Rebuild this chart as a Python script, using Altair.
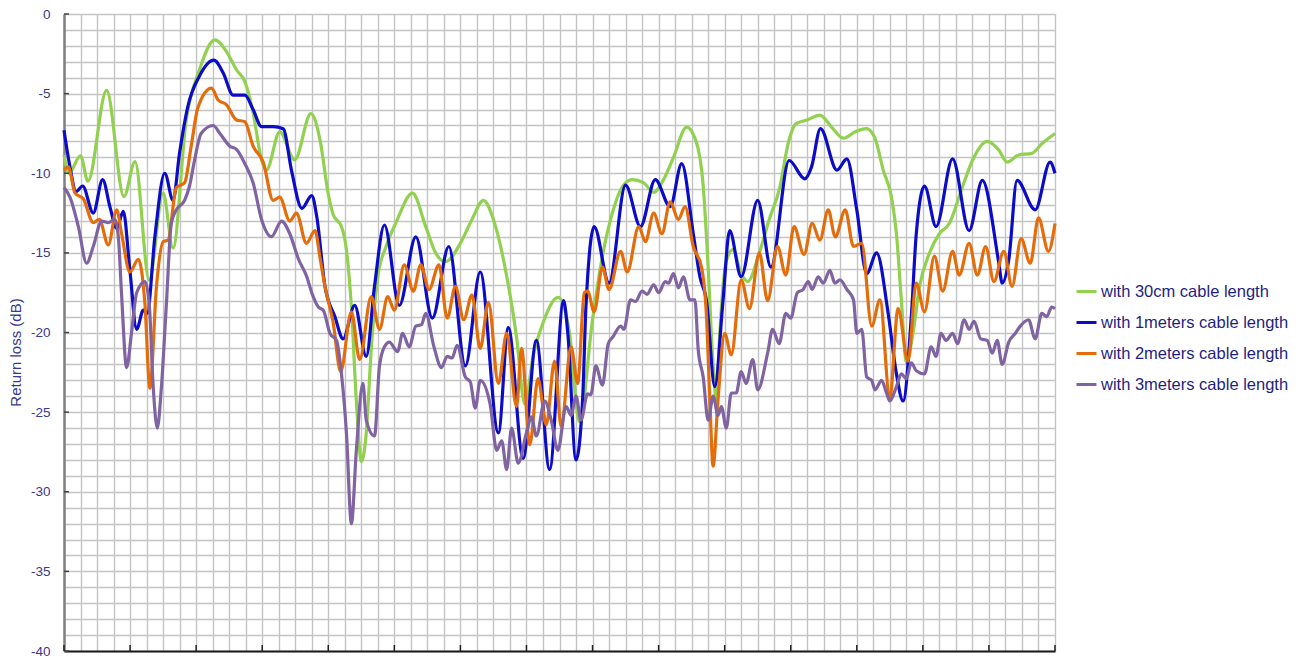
import altair as alt
import pandas as pd

series_names = [
    "with 30cm cable length",
    "with 1meters cable length",
    "with 2meters cable length",
    "with 3meters cable length",
]
series_colors = ["#92d050", "#0b0bc8", "#e46c0a", "#8064a2"]

# (frequency step, return loss dB)
trace_30cm = [(0,-8.85),(0.3,-10.0),(1.0,-8.9),(1.45,-10.5),(2.58,-4.8),(3.63,-11.46),(4.3,-9.27),(5.16,-16.7),(6.0,-11.25),(6.6,-14.7),(7.4,-6.65),(8.2,-3.5),(9.13,-1.63),(9.84,-2.36),(10.44,-3.5),(10.95,-4.25),(11.45,-6.2),(11.96,-9.16),(12.26,-9.8),(13.06,-7.4),(13.97,-9.16),(14.95,-6.25),(15.5,-7.9),(16.0,-11.3),(16.3,-12.6),(16.8,-13.35),(17.1,-14.8),(17.4,-18.4),(17.7,-24.3),(18.0,-28.1),(18.3,-26.3),(18.6,-21.1),(19.0,-16.5),(19.5,-14.6),(20.1,-13.1),(21.1,-11.25),(21.9,-13.35),(22.5,-15.0),(23.1,-15.55),(24.1,-14.2),(24.7,-12.9),(25.4,-11.7),(26.0,-12.9),(26.7,-15.9),(27.4,-20.3),(27.9,-24.5),(28.4,-21.5),(29.0,-19.4),(29.92,-17.8),(30.6,-20.0),(31.2,-25.6),(32.0,-19.2),(32.6,-15.2),(33.2,-12.5),(33.8,-10.85),(34.4,-10.4),(35.1,-10.6),(35.7,-11.2),(36.3,-10.4),(36.9,-9.0),(37.7,-7.1),(38.3,-8.1),(38.7,-10.8),(39.0,-15.9),(39.3,-22.1),(39.5,-24.2),(39.7,-20.1),(40.1,-15.5),(40.5,-14.8),(41.0,-16.3),(41.4,-16.8),(42.1,-15.0),(42.7,-12.9),(43.3,-11.05),(43.9,-7.9),(44.3,-6.9),(45.0,-6.65),(45.76,-6.35),(46.47,-7.1),(47.2,-7.8),(47.9,-7.4),(48.6,-7.2),(49.1,-7.8),(49.6,-9.8),(50.1,-11.5),(50.4,-13.8),(50.7,-18.0),(51.0,-21.9),(51.4,-20.05),(51.8,-17.1),(52.4,-15.0),(53.0,-13.8),(53.6,-13.15),(54.4,-10.85),(55.0,-9.2),(55.9,-8.0),(56.6,-8.55),(57.1,-9.3),(57.8,-8.85),(58.6,-8.75),(59.25,-8.1),(60.0,-7.5)]

trace_1m = [(0,-7.3),(0.36,-9.6),(0.73,-11.15),(1.13,-10.8),(1.77,-12.5),(2.34,-10.4),(2.78,-12.1),(3.19,-13.45),(3.59,-12.4),(3.99,-16.1),(4.4,-19.8),(4.8,-18.6),(5.04,-18.8),(5.5,-14.0),(6.1,-10.0),(6.6,-11.7),(7.0,-8.7),(7.5,-5.8),(8.2,-3.9),(9.07,-2.9),(9.64,-3.7),(10.24,-5.1),(10.95,-5.1),(11.45,-6.0),(11.96,-7.07),(12.66,-7.07),(13.27,-7.2),(13.77,-9.8),(14.4,-12.2),(15.0,-11.4),(15.3,-12.7),(15.8,-17.1),(16.4,-19.0),(16.9,-20.4),(17.6,-18.3),(18.3,-21.5),(18.8,-17.1),(19.4,-13.25),(20.3,-18.3),(21.3,-14.0),(22.3,-19.1),(23.3,-14.6),(24.3,-22.1),(25.2,-16.2),(26.3,-26.3),(26.9,-19.7),(27.8,-27.9),(28.6,-20.5),(29.4,-28.6),(30.25,-18.0),(30.5,-20.0),(31.0,-28.0),(31.4,-24.2),(31.6,-18.4),(32.1,-13.35),(33.0,-16.9),(34.0,-10.75),(34.9,-13.35),(35.8,-10.4),(36.7,-12.1),(37.4,-9.4),(38.1,-13.8),(38.5,-16.5),(38.9,-18.0),(39.4,-23.4),(39.9,-18.0),(40.3,-13.6),(41.0,-16.5),(42.0,-11.7),(42.8,-15.9),(43.9,-9.2),(44.85,-10.35),(45.26,-9.6),(45.8,-7.2),(46.8,-9.8),(47.4,-9.1),(48.0,-12.3),(48.6,-16.3),(49.2,-15.0),(49.9,-18.8),(50.4,-22.6),(50.8,-24.3),(51.3,-19.0),(51.6,-13.8),(52.1,-10.8),(52.8,-13.35),(53.8,-9.1),(54.8,-13.6),(55.6,-10.45),(56.6,-15.65),(56.8,-16.9),(57.2,-15.45),(57.7,-10.45),(58.8,-12.3),(59.7,-9.3),(60.0,-10.0)]

trace_2m = [(0,-9.8),(0.26,-9.6),(0.67,-11.25),(1.17,-11.6),(1.77,-13.1),(2.14,-12.9),(2.68,-14.5),(3.19,-12.3),(3.49,-13.8),(3.99,-16.2),(4.5,-15.4),(4.9,-18.2),(5.2,-23.5),(5.6,-17.1),(6.0,-14.3),(6.3,-14.2),(6.8,-10.9),(7.3,-10.6),(7.7,-8.3),(8.1,-5.9),(8.93,-4.66),(9.33,-5.4),(9.84,-5.7),(10.44,-6.65),(10.95,-6.76),(11.45,-8.3),(12.06,-9.3),(12.66,-11.7),(13.06,-11.5),(13.67,-13.0),(14.07,-12.5),(14.68,-14.4),(15.2,-13.6),(15.5,-15.3),(15.8,-17.1),(16.3,-19.4),(16.75,-22.45),(17.4,-18.7),(17.9,-21.7),(18.6,-17.75),(19.1,-19.8),(19.6,-17.75),(20.0,-18.6),(20.6,-15.75),(21.15,-17.4),(21.6,-15.75),(22.1,-17.3),(22.7,-15.75),(23.2,-19.1),(23.7,-17.1),(24.2,-19.2),(24.7,-17.65),(25.2,-21.0),(25.7,-18.1),(26.3,-23.2),(26.8,-20.05),(27.4,-24.65),(27.7,-21.0),(28.2,-27.05),(28.7,-22.9),(29.2,-25.8),(29.7,-21.8),(30.1,-25.9),(30.7,-20.9),(31.1,-23.2),(31.5,-17.5),(31.7,-17.4),(32.1,-18.7),(32.6,-15.9),(33.0,-17.3),(33.7,-14.9),(34.1,-16.2),(34.8,-13.35),(35.2,-14.3),(35.7,-12.5),(36.2,-13.8),(36.7,-11.8),(37.2,-12.9),(37.6,-12.1),(38.1,-14.6),(38.6,-15.9),(38.9,-19.0),(39.1,-24.2),(39.3,-28.4),(39.6,-24.2),(40.0,-20.05),(40.4,-21.4),(41.0,-16.7),(41.5,-18.5),(42.1,-15.0),(42.6,-18.0),(43.2,-14.6),(43.7,-16.4),(44.2,-13.35),(44.8,-15.1),(45.3,-13.15),(45.76,-14.2),(46.27,-12.3),(46.7,-14.0),(47.3,-12.3),(47.8,-14.6),(48.3,-14.4),(48.9,-19.6),(49.4,-17.95),(50.0,-24.1),(50.5,-18.5),(51.1,-21.8),(51.6,-16.9),(52.1,-18.7),(52.7,-15.2),(53.2,-17.4),(53.8,-14.9),(54.2,-16.4),(54.8,-14.4),(55.3,-16.4),(55.8,-14.6),(56.3,-16.8),(56.9,-14.9),(57.4,-17.1),(57.95,-14.1),(58.5,-15.65),(59.0,-12.8),(59.6,-14.9),(60.0,-13.15)]

trace_3m = [(0,-10.9),(0.36,-11.5),(0.87,-13.35),(1.37,-15.65),(1.77,-14.6),(2.28,-13.0),(2.68,-13.1),(3.08,-12.9),(3.29,-14.0),(3.49,-17.7),(3.79,-22.2),(4.09,-20.0),(4.4,-17.5),(4.9,-16.8),(5.16,-18.2),(5.4,-23.4),(5.65,-26.0),(5.9,-23.4),(6.2,-18.2),(6.5,-13.1),(6.8,-12.3),(7.3,-11.7),(7.6,-10.8),(7.9,-9.2),(8.3,-7.5),(9.03,-7.0),(9.44,-7.5),(10.04,-8.3),(10.44,-8.5),(10.95,-9.4),(11.45,-10.6),(11.96,-12.9),(12.56,-13.98),(13.17,-13.0),(13.67,-13.8),(14.2,-15.4),(14.7,-16.5),(15.0,-17.5),(15.4,-18.4),(15.7,-18.6),(16.1,-20.05),(16.5,-20.5),(16.8,-22.6),(17.1,-26.3),(17.4,-32.0),(17.7,-27.4),(18.1,-23.2),(18.3,-25.5),(18.8,-26.5),(19.1,-22.1),(19.4,-20.9),(19.7,-20.6),(20.2,-21.2),(20.5,-20.05),(20.9,-20.9),(21.3,-19.6),(21.65,-19.5),(21.9,-18.8),(22.4,-20.9),(22.85,-22.2),(23.2,-21.5),(23.5,-21.6),(23.8,-20.8),(24.3,-22.8),(24.6,-23.1),(24.9,-24.75),(25.2,-23.0),(25.8,-24.5),(26.2,-27.4),(26.5,-26.8),(26.8,-28.6),(27.1,-26.0),(27.5,-28.2),(28.0,-26.3),(28.3,-25.3),(28.6,-26.5),(29.1,-24.3),(29.5,-25.5),(29.9,-27.4),(30.4,-24.65),(30.7,-25.2),(31.0,-24.0),(31.3,-25.5),(31.7,-23.85),(31.9,-23.9),(32.2,-22.1),(32.6,-23.3),(32.95,-20.7),(33.25,-20.25),(33.7,-19.6),(33.9,-19.8),(34.3,-17.95),(34.6,-18.05),(35.0,-17.4),(35.3,-17.6),(35.7,-17.0),(36.0,-17.5),(36.4,-16.8),(36.6,-16.9),(36.9,-16.3),(37.2,-17.2),(37.5,-16.5),(37.9,-17.95),(38.2,-17.95),(38.4,-21.1),(38.7,-22.8),(39.0,-25.5),(39.3,-24.0),(39.6,-25.2),(39.8,-24.65),(40.1,-26.0),(40.4,-23.8),(40.7,-23.8),(41.0,-22.45),(41.3,-23.2),(41.7,-21.7),(42.0,-23.6),(42.6,-21.3),(42.9,-19.8),(43.3,-20.7),(43.7,-18.8),(44.0,-19.1),(44.4,-17.5),(44.75,-17.3),(45.06,-16.8),(45.3,-17.3),(45.66,-16.5),(45.97,-16.9),(46.37,-16.1),(46.67,-16.9),(46.98,-16.7),(47.4,-17.3),(47.8,-17.95),(48.0,-20.05),(48.3,-19.8),(48.6,-22.8),(48.9,-23.0),(49.1,-23.6),(49.5,-23.0),(49.8,-23.8),(50.0,-24.3),(50.4,-23.4),(50.7,-22.6),(51.0,-22.9),(51.3,-21.9),(51.6,-22.4),(52.1,-22.6),(52.5,-20.9),(52.8,-21.5),(53.1,-20.05),(53.4,-20.5),(53.8,-20.05),(54.1,-20.7),(54.5,-19.2),(54.8,-19.8),(55.1,-19.3),(55.5,-20.4),(55.9,-20.5),(56.2,-21.3),(56.5,-20.5),(56.8,-22.0),(57.2,-20.6),(57.6,-20.05),(57.9,-19.6),(58.4,-19.2),(58.8,-20.4),(59.2,-18.8),(59.5,-19.0),(59.8,-18.4),(60.0,-18.5)]

y_tick_values = list(range(-40, 1, 5))
x_tick_values = list(range(0, 61, 4))
x_grid_values = list(range(0, 61))
y_grid_values = list(range(-40, 1))

rows = []
for name, trace in zip(series_names, [trace_30cm, trace_1m, trace_2m, trace_3m]):
    for i, (xv, yv) in enumerate(trace):
        rows.append({"series": name, "step": xv, "rl": yv, "idx": i})
df = pd.DataFrame(rows)

FONT = "Liberation Sans"
W, H = 991, 637

x_scale = alt.Scale(domain=[0, 60], nice=False, zero=False)
y_scale = alt.Scale(domain=[-40, 0], nice=False, zero=False)

x_axis = alt.Axis(values=x_grid_values, labels=False, ticks=False, title=None,
                  grid=True, gridColor="#c4c4c4", gridWidth=1.4,
                  domainColor="#1a1a1a", domainWidth=2)
y_axis = alt.Axis(values=y_grid_values,
                  labelExpr="datum.value % 5 == 0 ? '' + datum.value : ''",
                  labelOverlap=False, ticks=False, labelPadding=14,
                  labelFont=FONT, labelFontSize=13.5, labelColor="#38388f",
                  grid=True, gridColor="#c4c4c4", gridWidth=1.4,
                  domainColor="#808080", domainWidth=2.5,
                  title="Return loss (dB)", titleFont=FONT, titleFontSize=15,
                  titleFontWeight="normal", titleColor="#3a3a8c",
                  titleAngle=270, titleX=-49, titleY=338,
                  titleAlign="center", titleBaseline="middle")

lines = alt.Chart(df).mark_line(interpolate="monotone", strokeWidth=3.2).encode(
    x=alt.X("step:Q", scale=x_scale, axis=x_axis),
    y=alt.Y("rl:Q", scale=y_scale, axis=y_axis),
    color=alt.Color("series:N",
                    scale=alt.Scale(domain=series_names, range=series_colors),
                    legend=alt.Legend(title=None, orient="none", legendX=1011, legendY=266,
                                      symbolType="stroke", symbolSize=400,
                                      symbolStrokeWidth=3, labelFont=FONT,
                                      labelFontSize=16.5, labelColor="#1f1f80",
                                      labelOffset=3, rowPadding=11, padding=0,
                                      labelLimit=400)),
    order=alt.Order("idx:Q"),
)

ytick_df = pd.DataFrame({"rl": y_tick_values})
xtick_df = pd.DataFrame({"step": x_tick_values})

yticks = alt.Chart(ytick_df).mark_rule(color="#444444", strokeWidth=1.5).encode(
    y=alt.Y("rl:Q", scale=y_scale, axis=y_axis),
    x=alt.value(0), x2=alt.value(5),
)
xticks = alt.Chart(xtick_df).mark_rule(color="#222222", strokeWidth=1.5).encode(
    x=alt.X("step:Q", scale=x_scale, axis=x_axis),
    y=alt.value(H), y2=alt.value(H - 6),
)

chart = alt.layer(lines, yticks, xticks).properties(
    width=W, height=H,
    autosize=alt.AutoSizeParams(type="none"),
    padding={"left": 56, "top": 6, "right": 235, "bottom": 7},
).configure_view(stroke="#8c8c8c", strokeWidth=1.5).configure(background="white")

chart.save("out.html", embed_options={"renderer": "svg", "actions": False})
